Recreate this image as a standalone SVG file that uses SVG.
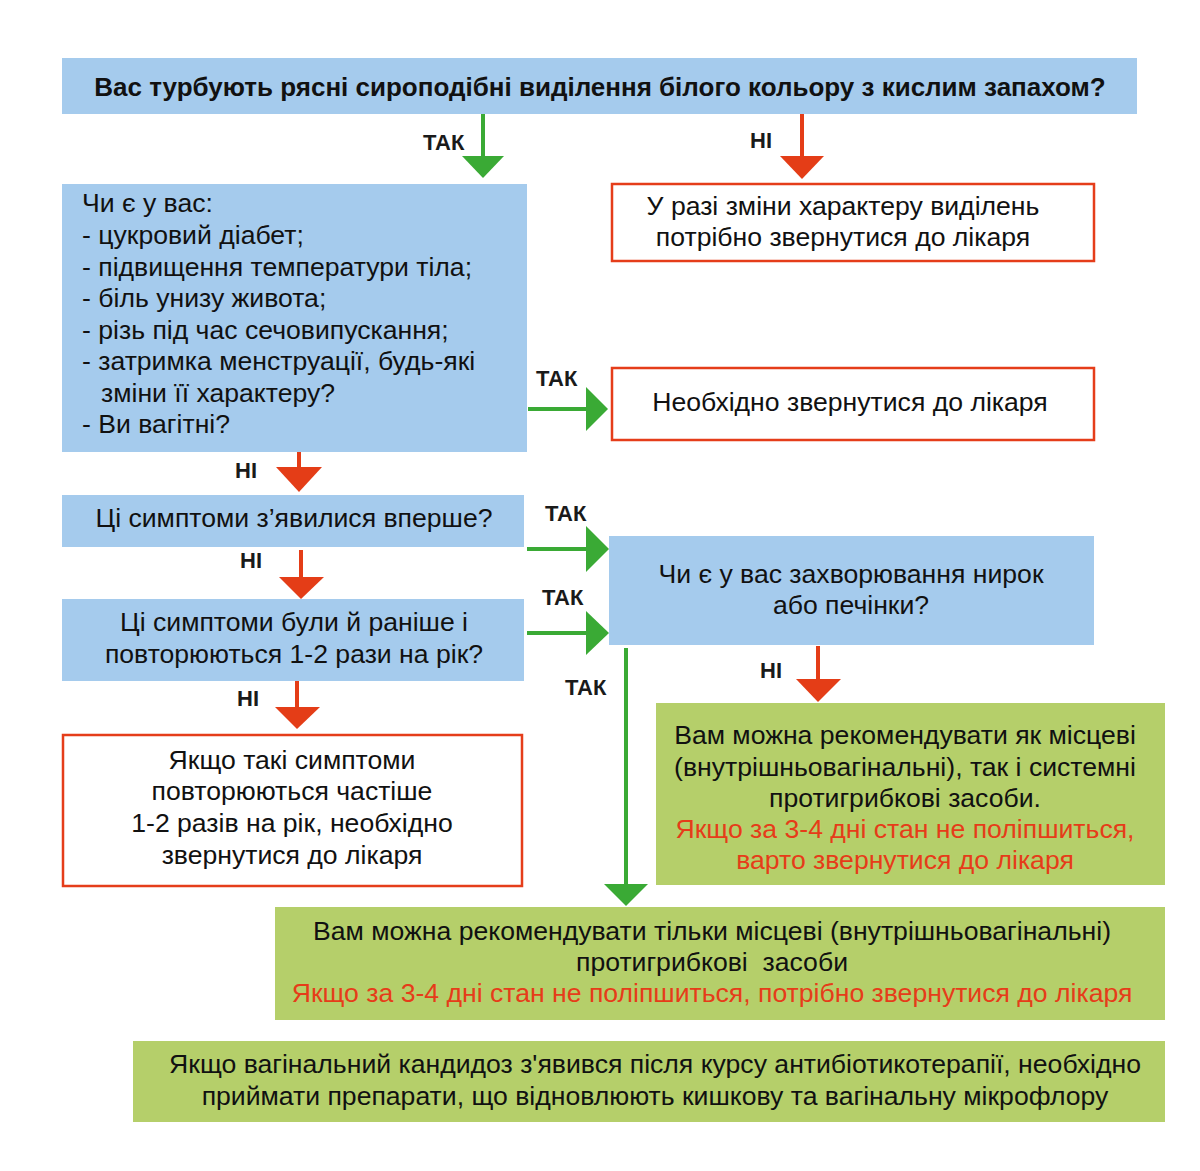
<svg xmlns="http://www.w3.org/2000/svg" width="1200" height="1171" viewBox="0 0 1200 1171">
<defs>
<style>
.blue{fill:#a5cbed;}
.green{fill:#b5cf6a;}
.red{fill:#fff;stroke:#e53d1a;stroke-width:2.5;}
text{font-family:"Liberation Sans",Arial,sans-serif;font-size:26.6px;fill:#111;}
.c{text-anchor:middle;}
.b{font-weight:bold;font-size:26px;}
.lbl{font-weight:bold;font-size:22px;fill:#1a1a1a;}
.rt{fill:#e63c19;}
.gl{stroke:#3aaa35;stroke-width:4;fill:none;}
.rl{stroke:#e43d17;stroke-width:4;fill:none;}
.ga{fill:#3aaa35;}
.ra{fill:#e43d17;}
</style>
</defs>
<rect width="1200" height="1171" fill="#fff"/>

<g id="q1">
<rect class="blue" x="62" y="58" width="1075" height="56"/>
<text class="c b" x="600" y="96">Вас турбують рясні сироподібні виділення білого кольору з кислим запахом?</text>
</g>

<g id="q2">
<rect class="blue" x="62" y="184" width="465" height="268"/>
<text x="82" y="212">Чи є у вас:</text>
<text x="82" y="244">- цукровий діабет;</text>
<text x="82" y="276">- підвищення температури тіла;</text>
<text x="82" y="307">- біль унизу живота;</text>
<text x="82" y="339">- різь під час сечовипускання;</text>
<text x="82" y="370">- затримка менструації, будь-які</text>
<text x="101" y="402">зміни її характеру?</text>
<text x="82" y="433">- Ви вагітні?</text>
</g>

<g id="r1">
<rect class="red" x="612" y="184" width="482" height="77"/>
<text class="c" x="843" y="215">У разі зміни характеру виділень</text>
<text class="c" x="843" y="246">потрібно звернутися до лікаря</text>
</g>

<g id="r2">
<rect class="red" x="612" y="368" width="482" height="72"/>
<text class="c" x="850" y="411">Необхідно звернутися до лікаря</text>
</g>

<g id="q3">
<rect class="blue" x="62" y="495" width="462" height="52"/>
<text class="c" x="294" y="527">Ці симптоми з’явилися вперше?</text>
</g>

<g id="q4">
<rect class="blue" x="62" y="599" width="462" height="82"/>
<text class="c" x="294" y="631">Ці симптоми були й раніше і</text>
<text class="c" x="294" y="663">повторюються 1-2 рази на рік?</text>
</g>

<g id="r3">
<rect class="red" x="63" y="735" width="459" height="151"/>
<text class="c" x="292" y="769">Якщо такі симптоми</text>
<text class="c" x="292" y="800">повторюються частіше</text>
<text class="c" x="292" y="832">1-2 разів на рік, необхідно</text>
<text class="c" x="292" y="864">звернутися до лікаря</text>
</g>

<g id="q5">
<rect class="blue" x="609" y="536" width="485" height="109"/>
<text class="c" x="851" y="583">Чи є у вас захворювання нирок</text>
<text class="c" x="851" y="614">або печінки?</text>
</g>

<g id="g1">
<rect class="green" x="656" y="703" width="509" height="182"/>
<text class="c" x="905" y="744">Вам можна рекомендувати як місцеві</text>
<text class="c" x="905" y="776">(внутрішньовагінальні), так і системні</text>
<text class="c" x="905" y="807">протигрибкові засоби.</text>
<text class="c rt" x="905" y="838">Якщо за 3-4 дні стан не поліпшиться,</text>
<text class="c rt" x="905" y="869">варто звернутися до лікаря</text>
</g>

<g id="g2">
<rect class="green" x="275" y="907" width="890" height="113"/>
<text class="c" x="712" y="940">Вам можна рекомендувати тільки місцеві (внутрішньовагінальні)</text>
<text class="c" x="712" y="971" xml:space="preserve">протигрибкові  засоби</text>
<text class="c rt" x="712" y="1002">Якщо за 3-4 дні стан не поліпшиться, потрібно звернутися до лікаря</text>
</g>

<g id="g3">
<rect class="green" x="133" y="1041" width="1032" height="81"/>
<text class="c" x="655" y="1073">Якщо вагінальний кандидоз з'явився після курсу антибіотикотерапії, необхідно</text>
<text class="c" x="655" y="1105">приймати препарати, що відновлюють кишкову та вагінальну мікрофлору</text>
</g>

<g id="connectors">
<line class="gl" x1="483" y1="114" x2="483" y2="158"/>
<polygon class="ga" points="462,156 504,156 483,178"/>
<text class="lbl" x="423" y="150">ТАК</text>

<line class="rl" x1="802" y1="114" x2="802" y2="158"/>
<polygon class="ra" points="780,156 824,156 802,179"/>
<text class="lbl" x="750" y="148">НІ</text>

<line class="gl" x1="528" y1="409" x2="588" y2="409"/>
<polygon class="ga" points="586,387 586,431 608,409"/>
<text class="lbl" x="536" y="386">ТАК</text>

<line class="rl" x1="299" y1="452" x2="299" y2="469"/>
<polygon class="ra" points="276,467 322,467 299,492"/>
<text class="lbl" x="235" y="478">НІ</text>

<line class="rl" x1="301" y1="550" x2="301" y2="579"/>
<polygon class="ra" points="279,577 324,577 301,599"/>
<text class="lbl" x="240" y="568">НІ</text>

<line class="rl" x1="297" y1="681" x2="297" y2="709"/>
<polygon class="ra" points="275,707 320,707 297,729"/>
<text class="lbl" x="237" y="706">НІ</text>

<line class="gl" x1="527" y1="549" x2="588" y2="549"/>
<polygon class="ga" points="586,526 586,572 609,549"/>
<text class="lbl" x="545" y="521">ТАК</text>

<line class="gl" x1="527" y1="633" x2="588" y2="633"/>
<polygon class="ga" points="586,611 586,655 609,633"/>
<text class="lbl" x="542" y="605">ТАК</text>

<line class="gl" x1="626" y1="648" x2="626" y2="886"/>
<polygon class="ga" points="604,884 648,884 626,906"/>
<text class="lbl" x="565" y="695">ТАК</text>

<line class="rl" x1="818" y1="646" x2="818" y2="681"/>
<polygon class="ra" points="796,679 841,679 818,702"/>
<text class="lbl" x="760" y="678">НІ</text>
</g>
</svg>
